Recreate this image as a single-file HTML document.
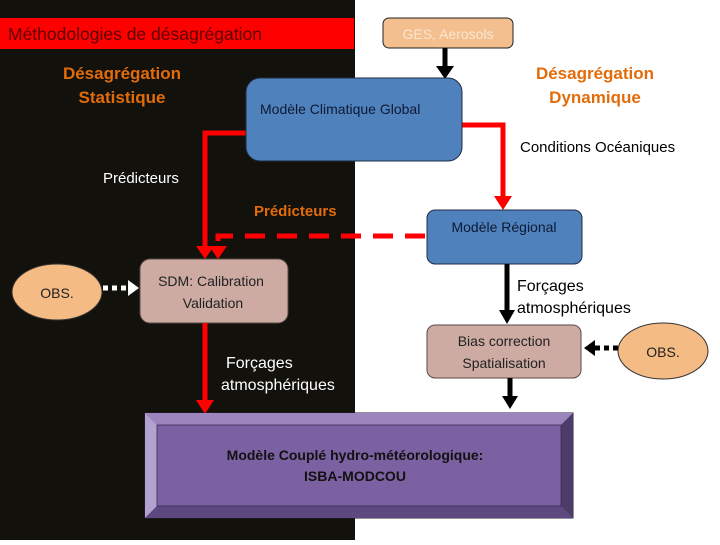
<!DOCTYPE html>
<html><head><meta charset="utf-8"><style>
body{margin:0;width:720px;height:540px;overflow:hidden;background:#fff;font-family:"Liberation Sans",sans-serif}
</style></head><body>
<svg width="720" height="540" xmlns="http://www.w3.org/2000/svg" font-family="Liberation Sans, sans-serif">
<rect x="0" y="0" width="355" height="540" fill="#12110c"/>
<rect x="0" y="18" width="354" height="31" fill="#f00"/>
<text x="8" y="40" font-size="17.5" fill="#5a0000">Méthodologies de désagrégation</text>
<text x="122" y="79" font-size="17" font-weight="bold" fill="#e36c0a" text-anchor="middle">Désagrégation</text>
<text x="122" y="103" font-size="17" font-weight="bold" fill="#e36c0a" text-anchor="middle">Statistique</text>
<text x="595" y="79" font-size="17" font-weight="bold" fill="#e36c0a" text-anchor="middle">Désagrégation</text>
<text x="595" y="103" font-size="17" font-weight="bold" fill="#e36c0a" text-anchor="middle">Dynamique</text>
<rect x="383" y="18" width="130" height="30" rx="6" fill="#f4bf8e" stroke="#222"/>
<text x="448" y="39" font-size="14" fill="#fbe6d2" text-anchor="middle">GES, Aerosols</text>
<line x1="445" y1="48" x2="445" y2="68" stroke="#000" stroke-width="5"/>
<path d="M436,66 L454,66 L445,79z" fill="#000"/>
<polyline points="250,133 205,133 205,248" fill="none" stroke="#f00" stroke-width="5"/>
<path d="M196,246 L214,246 L205,259z" fill="#f00"/>
<polyline points="458,125 503,125 503,198" fill="none" stroke="#f00" stroke-width="5"/>
<path d="M494,196 L512,196 L503,210z" fill="#f00"/>
<polyline points="425,236 218,236 218,248" fill="none" stroke="#f00" stroke-width="5" stroke-dasharray="20,12"/>
<path d="M209,246 L227,246 L218,259z" fill="#f00"/>
<rect x="246" y="78" width="216" height="83" rx="14" fill="#4f81bd" stroke="#1f2d44"/>
<text x="260" y="114" font-size="14" fill="#0e1a33">Modèle Climatique Global</text>
<text x="520" y="152" font-size="15" fill="#000">Conditions Océaniques</text>
<text x="103" y="183" font-size="15" fill="#fff">Prédicteurs</text>
<text x="254" y="216" font-size="15" font-weight="bold" fill="#e36c0a">Prédicteurs</text>
<rect x="427" y="210" width="155" height="54" rx="8" fill="#4f81bd" stroke="#1f2d44"/>
<text x="504" y="232" font-size="14" fill="#0e1a33" text-anchor="middle">Modèle Régional</text>
<rect x="140" y="259" width="148" height="64" rx="10" fill="#cdaba3" stroke="#5a4a44"/>
<text x="211" y="286" font-size="14" fill="#222" text-anchor="middle">SDM: Calibration</text>
<text x="213" y="308" font-size="14" fill="#222" text-anchor="middle">Validation</text>
<ellipse cx="57" cy="292" rx="45" ry="28" fill="#f5bb84" stroke="#333"/>
<text x="57" y="298" font-size="14" fill="#222" text-anchor="middle">OBS.</text>
<line x1="103" y1="288" x2="128" y2="288" stroke="#fff" stroke-width="5" stroke-dasharray="5,4"/>
<path d="M128,280 L139,288 L128,296z" fill="#fff"/>
<line x1="205" y1="323" x2="205" y2="402" stroke="#f00" stroke-width="5"/>
<path d="M196,400 L214,400 L205,414z" fill="#f00"/>
<text x="226" y="368" font-size="16" fill="#fff">Forçages</text>
<text x="221" y="390" font-size="16" fill="#fff">atmosphériques</text>
<line x1="507" y1="264" x2="507" y2="312" stroke="#000" stroke-width="5"/>
<path d="M499,310 L515,310 L507,324z" fill="#000"/>
<text x="517" y="291" font-size="16" fill="#000">Forçages</text>
<text x="517" y="313" font-size="16" fill="#000">atmosphériques</text>
<rect x="427" y="325" width="154" height="53" rx="8" fill="#cdaba3" stroke="#5a4a44"/>
<text x="504" y="346" font-size="14" fill="#222" text-anchor="middle">Bias correction</text>
<text x="504" y="368" font-size="14" fill="#222" text-anchor="middle">Spatialisation</text>
<ellipse cx="663" cy="351" rx="45" ry="28" fill="#f5bb84" stroke="#333"/>
<text x="663" y="357" font-size="14" fill="#222" text-anchor="middle">OBS.</text>
<line x1="618" y1="348" x2="595" y2="348" stroke="#000" stroke-width="5" stroke-dasharray="5,4"/>
<path d="M595,340 L584,348 L595,356z" fill="#000"/>
<line x1="510" y1="378" x2="510" y2="398" stroke="#000" stroke-width="5"/>
<path d="M502,396 L518,396 L510,409z" fill="#000"/>
<rect x="145" y="413" width="428" height="105" fill="#7b61a1" stroke="#2a1f3a"/>
<path d="M145,413 L573,413 L561,425 L157,425z" fill="#9c85bd"/>
<path d="M145,413 L157,425 L157,506 L145,518z" fill="#b3a2cf"/>
<path d="M573,413 L561,425 L561,506 L573,518z" fill="#4d3b68"/>
<path d="M145,518 L157,506 L561,506 L573,518z" fill="#5d4880"/>
<rect x="157" y="425" width="404" height="81" fill="#7b61a1" stroke="#3a2b52" stroke-width="0.8"/>
<text x="355" y="460" font-size="14" font-weight="bold" fill="#111" text-anchor="middle">Modèle Couplé hydro-météorologique:</text>
<text x="355" y="481" font-size="14" font-weight="bold" fill="#111" text-anchor="middle">ISBA-MODCOU</text>
</svg>
</body></html>
